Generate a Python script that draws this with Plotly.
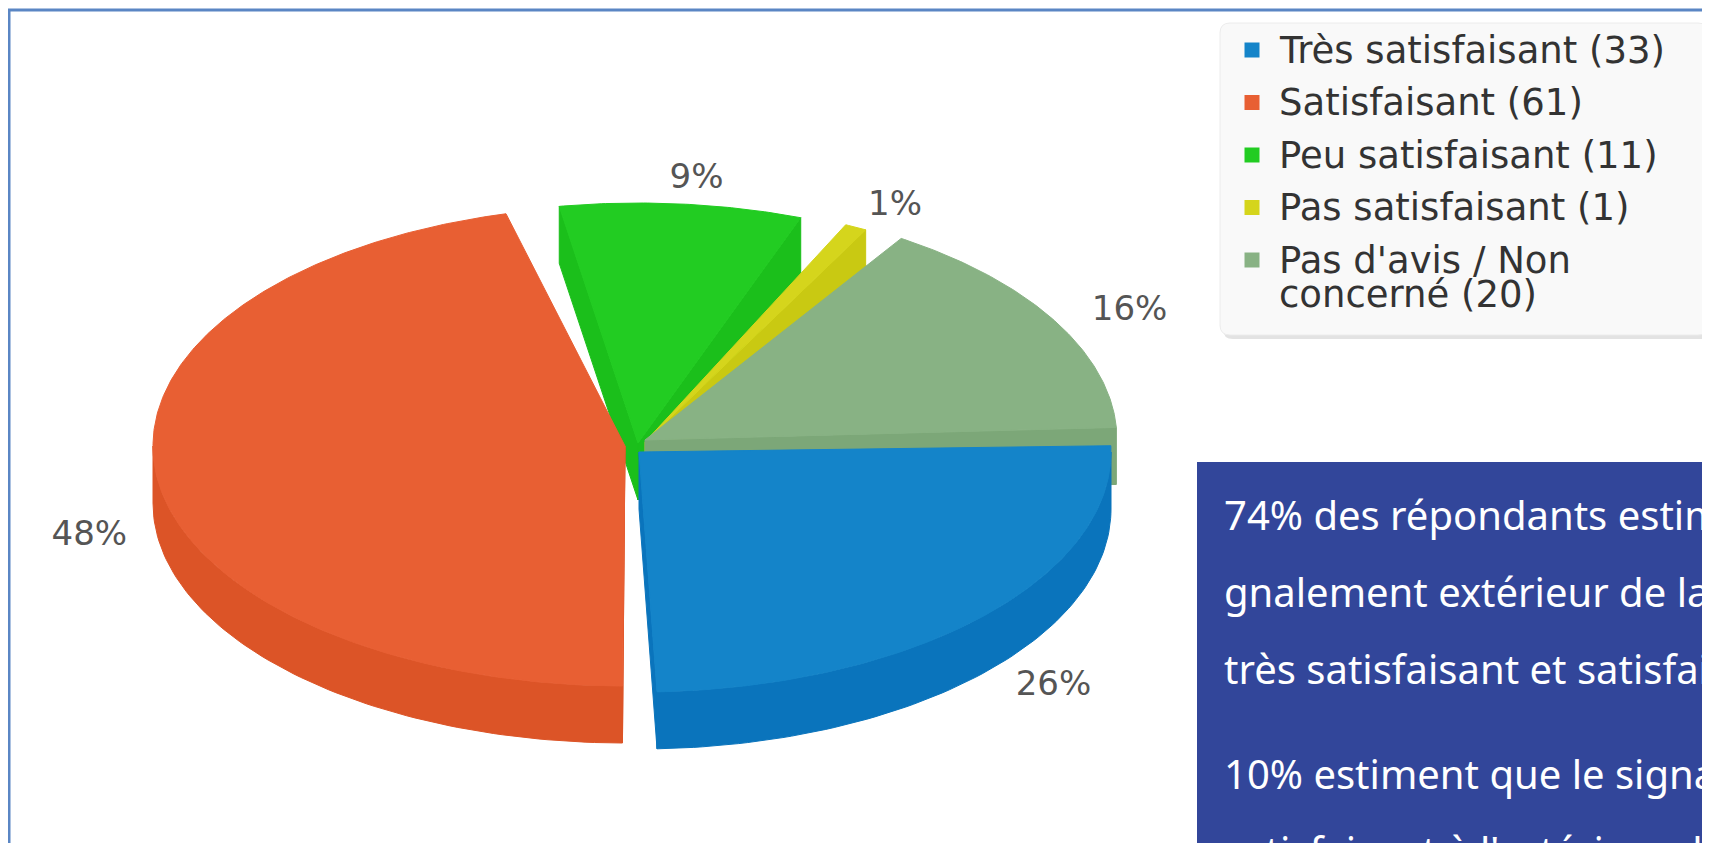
import numpy as np
import plotly.graph_objects as go

# ---------------- data ----------------
CATEGORIES = ["Très satisfaisant", "Satisfaisant", "Peu satisfaisant",
              "Pas satisfaisant", "Pas d'avis / Non concerné"]
COUNTS = [33, 61, 11, 1, 20]
TOP_COLORS = ["#1484c9", "#e85f33", "#22cc22", "#d5d51c", "#88b284"]
SIDE_COLORS = ["#0a74bc", "#dc5427", "#1bbf1b", "#c9c912", "#7ca778"]

TEXT_LINES = [
    "74% des répondants estiment que le si-",
    "gnalement extérieur de la mairie est",
    "très satisfaisant et satisfaisant.",
    "10% estiment que le signalement est peu",
    "satisfaisant à l'extérieur de la mairie.",
]

# ---------------- geometry / style ----------------
W, H = 1710, 843
PAGE_MARGIN = 8                    # default body margin of the html page
CX, CY = 645, 446
RX, RY = 472, 240
DEPTH = 57
START_ANGLE = -1.5
GAPS = [2.5, 5, 5, 5, 1.5]         # angular gap after each slice (deg)
OFFSETS = [(-6, 6), (-20, 0), (-7, -3), (0, -4), (0, -6)]  # explode offsets (px)
LABEL_RX, LABEL_RY = 560, 268

total = sum(COUNTS)
span = 360 - sum(GAPS)
angles = []
a = START_ANGLE
for n, g in zip(COUNTS, GAPS):
    s = a
    e = a + span * n / total
    angles.append((s, e))
    a = e + g


def rim(t, dx, dy, down=0.0):
    r = np.radians(t)
    return CX + dx + RX * np.cos(r), CY + dy + RY * np.sin(r) + down


def poly_trace(xs, ys, color):
    return go.Scatter(x=list(xs), y=list(ys), mode="lines", fill="toself",
                      fillcolor=color, line=dict(color=color, width=1),
                      hoverinfo="skip", showlegend=False)


def slice_traces(i):
    s, e = angles[i]
    dx, dy = OFFSETS[i]
    top_c, side_c = TOP_COLORS[i], SIDE_COLORS[i]
    ax, ay = CX + dx, CY + dy
    tr = []
    # radial faces
    for ang, visible in ((s, np.cos(np.radians(s)) < 0), (e, np.cos(np.radians(e)) > 0)):
        if visible:
            rx_, ry_ = rim(ang, dx, dy)
            tr.append(poly_trace([ax, rx_, rx_, ax, ax],
                                 [ay, ry_, ry_ + DEPTH, ay + DEPTH, ay], side_c))
    # outer wall (front half only)
    w0, w1 = max(s, 0.0), min(e, 180.0)
    if w1 > w0:
        ts = np.linspace(w0, w1, 80)
        ux, uy = rim(ts, dx, dy)
        lx, ly = rim(ts[::-1], dx, dy, DEPTH)
        tr.append(poly_trace(np.concatenate([ux, lx, ux[:1]]),
                             np.concatenate([uy, ly, uy[:1]]), side_c))
    # top face
    ts = np.linspace(s, e, max(8, int((e - s) * 2)))
    tx, ty = rim(ts, dx, dy)
    tr.append(poly_trace(np.concatenate([[ax], tx, [ax]]),
                         np.concatenate([[ay], ty, [ay]]), top_c))
    return tr


fig = go.Figure()

# draw order: back slices first
for i in [2, 3, 4, 1, 0]:
    for t in slice_traces(i):
        fig.add_trace(t)

# percentage labels
lab_x, lab_y, lab_t = [], [], []
for i, n in enumerate(COUNTS):
    s, e = angles[i]
    m = np.radians((s + e) / 2)
    x = CX + LABEL_RX * np.cos(m)
    y = CY + LABEL_RY * np.sin(m) + (DEPTH if np.sin(m) > 0 else 0)
    lab_x.append(x)
    lab_y.append(y)
    lab_t.append(f"{round(100 * n / total)}%")
fig.add_trace(go.Scatter(x=lab_x, y=lab_y, text=lab_t, mode="text",
                         textfont=dict(family="DejaVu Sans", size=34, color="#555555"),
                         hoverinfo="skip", showlegend=False))

# ---------------- legend (manual) ----------------
LEG_X0, LEG_Y0, LEG_X1, LEG_Y1 = 1220, 23, 1708, 335
ROW0, ROW_STEP, LINE_STEP = 50, 52.5, 34


def rounded_rect(x0, y0, x1, y1, r):
    return (f"M {x0+r} {y0} L {x1-r} {y0} Q {x1} {y0} {x1} {y0+r} "
            f"L {x1} {y1-r} Q {x1} {y1} {x1-r} {y1} L {x0+r} {y1} "
            f"Q {x0} {y1} {x0} {y1-r} L {x0} {y0+r} Q {x0} {y0} {x0+r} {y0} Z")


shapes = [
    dict(type="path", path=rounded_rect(LEG_X0 + 3, LEG_Y0 + 4, LEG_X1 + 3, LEG_Y1 + 4, 10),
         fillcolor="#e3e3e3", line=dict(width=0), layer="below"),
    dict(type="path", path=rounded_rect(LEG_X0, LEG_Y0, LEG_X1, LEG_Y1, 10),
         fillcolor="#f9f9f9", line=dict(color="#ececec", width=1), layer="below"),
]


def wrap(text, width=22):
    words, lines, cur = text.split(" "), [], ""
    for w_ in words:
        cand = (cur + " " + w_).strip()
        if len(cand) > width and cur:
            lines.append(cur)
            cur = w_
        else:
            cur = cand
    lines.append(cur)
    return lines


annotations = []
mk_y = []
for i, (cat, n) in enumerate(zip(CATEGORIES, COUNTS)):
    y = ROW0 + i * ROW_STEP
    mk_y.append(y)
    for j, line in enumerate(wrap(f"{cat} ({n})")):
        annotations.append(dict(x=1277, y=y + j * LINE_STEP, xref="x", yref="y",
                                text=line, showarrow=False, xanchor="left", yanchor="middle",
                                font=dict(family="DejaVu Sans", size=37, color="#333333")))
fig.add_trace(go.Scatter(x=[1252] * len(COUNTS), y=mk_y, mode="markers",
                         marker=dict(symbol="square", size=15, color=TOP_COLORS,
                                     line=dict(width=0)),
                         hoverinfo="skip", showlegend=False))

# ---------------- frame & text box ----------------
shapes.append(dict(type="path", path=f"M 9 {H+20} L 9 10 L {W+20} 10",
                   line=dict(color="#5a86c4", width=3)))
shapes.append(dict(type="rect", x0=1197, y0=462, x1=W + 40, y1=H + 40,
                   fillcolor="#32469a", line=dict(width=0), layer="below"))

TEXT_BASELINES = [528, 605, 682, 787, 864]
for line, bl in zip(TEXT_LINES, TEXT_BASELINES):
    annotations.append(dict(x=1222, y=bl - 14, xref="x", yref="y", text=line,
                            showarrow=False, xanchor="left", yanchor="middle",
                            font=dict(family="Noto Sans", size=40, color="#ffffff")))

fig.update_layout(
    width=W, height=H, autosize=False,
    margin=dict(l=0, r=0, t=0, b=0),
    paper_bgcolor="white", plot_bgcolor="white",
    xaxis=dict(range=[PAGE_MARGIN, W + PAGE_MARGIN], visible=False, fixedrange=True),
    yaxis=dict(range=[H + PAGE_MARGIN, PAGE_MARGIN], visible=False, fixedrange=True),
    shapes=shapes, annotations=annotations, showlegend=False,
)

fig.write_html("out.html", config={"displayModeBar": False})
